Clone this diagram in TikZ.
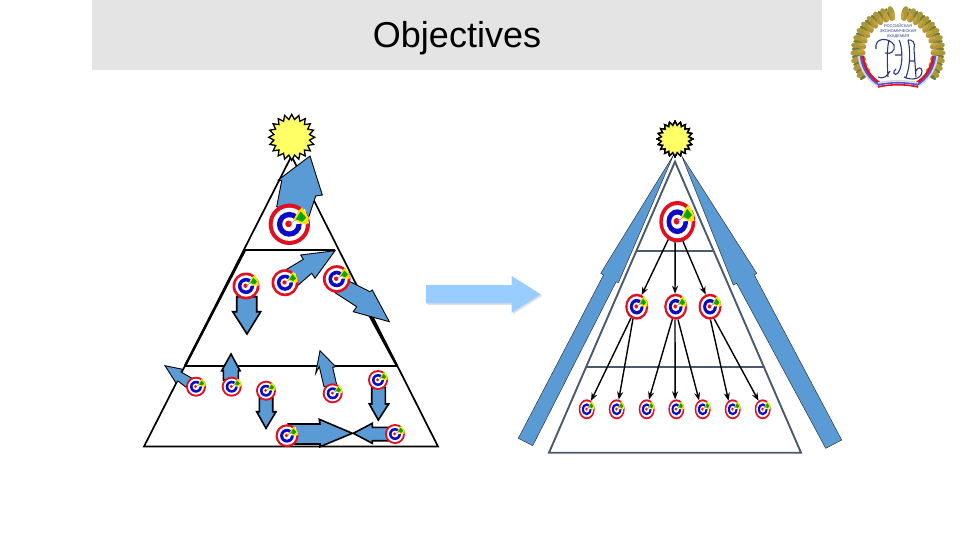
\documentclass[tikz,border=0pt]{standalone}
\usepackage{fontspec}
\setmainfont{Liberation Sans}
\usetikzlibrary{positioning, arrows.meta, shapes.geometric}
\definecolor{bandgray}{HTML}{E4E4E4}
\definecolor{arrowblue}{HTML}{5B9BD5}
\definecolor{paleblue}{HTML}{99CCFF}
\definecolor{slateline}{HTML}{4A5A6A}
\definecolor{sunyellow}{HTML}{FFFF66}
\definecolor{ringblue}{HTML}{0A0AC8}
\definecolor{ringred}{HTML}{E01020}
\definecolor{crestnavy}{HTML}{2A3A78}
\definecolor{crestgold}{HTML}{C8A23C}
\definecolor{crestgreen}{HTML}{6E7F3A}
\newcommand{\targetnode}[5]{%
  \node[targetanchor, minimum width=#4*2pt, minimum height=#5*2pt] (#1) at (#2,#3) {};
  \begin{scope}[shift={(#1.center)}, x=#4pt, y=#5pt]
    \fill[ringred] (0,0) circle (1);
    \fill[white] (0,0) circle (.8);
    \fill[ringblue] (0,0) circle (.6);
    \fill[white] (0,0) circle (.34);
    \fill[white] (0,0) -- (.95,.05) -- (.75,.75) -- cycle;
    \fill[ringred] (-.04,.02) circle (.16);
    \fill[yellow!85!orange] (.2,.22) -- (.42,.62) -- (.62,.82) -- (.95,.3) -- (.85,.0) -- (.55,.05) -- cycle;
    \fill[green!65!black] (.32,.25) -- (.55,.62) -- (.82,.32) -- (.62,.12) -- cycle;
    \draw[gray, line width=.4pt] (0,.02) -- (.5,.32);
  \end{scope}
}
\begin{document}
\begin{tikzpicture}[
  x=1pt, y=-1pt,
  band/.style     ={fill=bandgray, draw=none},
  titletext/.style={font=\fontsize{36}{40}\selectfont, inner sep=0pt},
  blockarr/.style ={draw=black, fill=arrowblue, line width=.9pt, line join=miter},
  heavyarr/.style ={blockarr, line width=1.6pt},
  wingarr/.style  ={draw=black!80, fill=arrowblue, line width=.5pt},
  bigarr/.style   ={fill=paleblue},
  leftline/.style ={black, line width=1.7pt},
  rightline/.style={slateline, line width=1.9pt},
  sun/.style      ={star, star points=20, star point ratio=1.28, draw=black, fill=sunyellow, inner sep=0pt, line width=1.3pt},
  targetanchor/.style={ellipse, inner sep=0pt, outer sep=0pt},
  arr/.style      ={-{Stealth[length=8pt, width=6pt]}, line width=1.4pt, black},
]
\useasboundingbox (0,0) rectangle (960,540);
\fill[band] (92,0) rectangle (822,70);
\node[titletext] (title) at (457,38) {Objectives};

\draw[leftline, line join=miter] (291.5,156) -- (144,446.5) -- (438,446.5) -- cycle;
\draw[leftline] (245,250) -- (335,250);
\draw[leftline] (185,366) -- (397,366);
\draw[black, line width=2.4pt] (245,250) -- (185,366);
\draw[black, line width=2.4pt] (352,283) -- (397,366);

\draw[blockarr] (276.7,206.7) -- (281.7,180.7) -- (278.3,180) -- (310,156) -- (322.3,195) -- (315.7,196) -- (308.3,218.3) -- cycle;
\draw[blockarr] (286.7,269.3) -- (303.3,259.3) -- (300.7,255) -- (335,250.7) -- (315,278.3) -- (311.7,273.3) -- (298.3,285) -- cycle;
\draw[blockarr] (350,281.7) -- (370,291.7) -- (372.3,290) -- (389.3,321.7) -- (353.3,311.7) -- (356.7,306.7) -- (335,292.7) -- cycle;
\draw[heavyarr] (236.7,296.7) -- (236.7,311.7) -- (232.7,311.7) -- (247,334) -- (260.7,311.7) -- (256.7,311.7) -- (256.7,296.7) -- cycle;
\draw[blockarr] (165,365.7) -- (182.7,369.3) -- (181,372) -- (195,380) -- (187,388) -- (178,381) -- (176,383) -- cycle;
\draw[heavyarr] (231,354) -- (240,370.7) -- (238.3,370.7) -- (238.3,380) -- (223.3,380) -- (223.3,370.7) -- (221.7,370.7) -- cycle;
\draw[heavyarr] (259.3,398.3) -- (259.3,411.7) -- (256.7,411.7) -- (266,428.3) -- (276,411.7) -- (272.7,411.7) -- (272.7,398) -- cycle;
\draw[blockarr] (320,350.7) -- (335.7,366.7) -- (332.7,367.3) -- (336.7,385) -- (324,386.7) -- (319.3,366.7) -- (315.7,373.3) -- cycle;
\draw[heavyarr] (371.7,387.3) -- (371.7,404) -- (369.3,404) -- (378.3,420) -- (388.7,404) -- (385.3,404) -- (385.3,387.3) -- cycle;
\draw[heavyarr] (288.3,424) -- (320,424) -- (319.3,419.3) -- (352.3,433.3) -- (320,446.7) -- (320,444) -- (293.3,444) -- cycle;
\draw[heavyarr] (353.3,433.3) -- (372.3,423.3) -- (372.3,427.3) -- (390,427.3) -- (388.3,440.7) -- (372.3,440.7) -- (372.3,443.3) -- cycle;

\targetnode{aim}{289.3}{224.3}{20.7}{20.7}
\targetnode{midl}{246}{286}{13.5}{13.5}
\targetnode{midc}{285}{282.7}{13.5}{13.5}
\targetnode{midr}{336.7}{279}{13.8}{13.8}
\targetnode{lowa}{196}{386.7}{10}{10}
\targetnode{lowb}{231.7}{386.7}{10}{10}
\targetnode{lowc}{266}{390.7}{10}{10}
\targetnode{lowd}{332.7}{393.3}{10}{10}
\targetnode{lowe}{378}{380}{10}{10}
\targetnode{lowf}{287}{435.7}{11.5}{11.5}
\targetnode{lowg}{395}{434}{10}{10}
\node[sun, minimum size=46pt] (sunl) at (291.7,137.3) {};

\fill[black!12] (427.5,286.5) -- (513.2,286.5) -- (513.2,277.5) -- (542.2,295.8) -- (513.2,314.2) -- (513.2,304.8) -- (427.5,304.8) -- cycle;
\fill[bigarr] (426,285) -- (511.7,285) -- (511.7,276) -- (540.7,294.3) -- (511.7,312.7) -- (511.7,303.3) -- (426,303.3) -- cycle;

\draw[rightline, line join=miter] (675,161.7) -- (549,452.7) -- (801,452.7) -- cycle;
\draw[rightline] (636.7,250.7) -- (714,250.7);
\draw[rightline] (586.7,366.7) -- (765,366.7);
\draw[wingarr] (673.5,155) -- (618.5,282.5) -- (616,282) -- (532.7,445.7) -- (518.3,438.3) -- (603.5,275) -- (600.7,273.3) -- cycle;
\draw[wingarr] (681.7,156) -- (756.7,273.3) -- (754.3,275) -- (841.7,440) -- (825.7,448.3) -- (736.7,283.3) -- (733.3,285) -- cycle;

\targetnode{top}{677.3}{221.7}{18}{20.7}
\targetnode{ma}{636.7}{306.7}{11.5}{13}
\targetnode{mb}{675.7}{306.7}{11.5}{13}
\targetnode{mc}{710}{306.7}{11.5}{13}
\foreach \n/\x in {ba/586.7, bb/616.7, bc/646.7, bd/676.3, be/702.7, bf/732.7, bg/762.7}
  \targetnode{\n}{\x}{409.3}{8}{10}
\node[sun, minimum size=35pt] (sunr) at (675,139) {};

\foreach \a/\s/\b/\e in {top/-117/ma/67, top/-96/mb/93, top/-74/mc/110,
    ma/-117/ba/63, ma/-107/bb/78, mb/-105/bc/77, mb/-93/bd/97, mb/-80/be/112, mc/-88/bf/116, mc/-71/bg/116}
  \draw[arr] (\a.\s) -- (\b.\e);

\begin{scope}[shift={(898,53)}, x=1pt, y=1pt]
  \fill[white] (0,0) circle (36);
  \foreach \t in {100,110,...,215}{
    \fill[crestgold!70!crestgreen, rotate=\t] (40,0) ellipse (7.5 and 3.6);
    \fill[crestgreen, rotate=\t+5] (42,0) ellipse (4.5 and 1.6);
    \fill[crestgold, rotate=\t-3] (37,0) ellipse (4 and 1.5);
  }
  \foreach \t in {80,70,...,-35}{
    \fill[crestgold!70!crestgreen, rotate=\t] (40,0) ellipse (7.5 and 3.6);
    \fill[crestgreen, rotate=\t-5] (42,0) ellipse (4.5 and 1.6);
    \fill[crestgold, rotate=\t+3] (37,0) ellipse (4 and 1.5);
  }
  \draw[black!15, line width=2.2pt] (-39,-3) arc (185:240:39);
  \draw[ringblue!70, line width=2.2pt] (-37,-3) arc (185:240:37);
  \draw[ringred, line width=2.2pt] (-35,-3) arc (185:240:35);
  \draw[black!15, line width=2.2pt] (39,-3) arc (-5:-60:39);
  \draw[ringblue!70, line width=2.2pt] (37,-3) arc (-5:-60:37);
  \draw[ringred, line width=2.2pt] (35,-3) arc (-5:-60:35);
  \draw[black!15, line width=1.6pt] (-20,-30) .. controls (-8,-27) and (8,-27) .. (20,-30);
  \draw[ringblue!70, line width=1.6pt] (-20,-32) .. controls (-8,-29) and (8,-29) .. (20,-32);
  \draw[ringred, line width=1.6pt] (-20,-34) .. controls (-8,-31) and (8,-31) .. (20,-34);
  \draw[crestgold, line width=1.4pt] (-14,36) -- (-10,43);
  \draw[crestgold, line width=1.4pt] (14,36) -- (10,43);
  \node[font=\fontsize{4}{4.6}\selectfont, crestnavy, inner sep=0pt, align=center] (crestname) at (0,22)
    {РОССИЙСКАЯ\\ЭКОНОМИЧЕСКАЯ\\АКАДЕМИЯ};
  \draw[crestnavy, line width=1.1pt] (-10,-24) .. controls (-11,-8) and (-11,6) .. (-9,13)
    (-22,4) .. controls (-24,16) and (-9,16) .. (-4,8) .. controls (-2,2) and (-8,-2) .. (-13,0)
    (-20,-24) .. controls (-14,-27) and (-10,-22) .. (-8,-18);
  \draw[crestnavy, line width=1.1pt] (1,13) .. controls (4,8) and (6,-12) .. (0,-20) .. controls (-4,-24) and (-6,-18) .. (-2,-16)
    (-3,-2) -- (4,-2);
  \draw[crestnavy, line width=1.1pt] (8,-24) .. controls (13,-12) and (12,6) .. (10,13)
    (10,13) .. controls (14,14) and (18,10) .. (16,4)
    (6,-24) .. controls (14,-28) and (24,-26) .. (24,-18) .. controls (24,-14) and (19,-14) .. (18,-18)
    (11,-8) -- (17,-8) (16,4) -- (18,-24);
\end{scope}
\end{tikzpicture}
\end{document}
